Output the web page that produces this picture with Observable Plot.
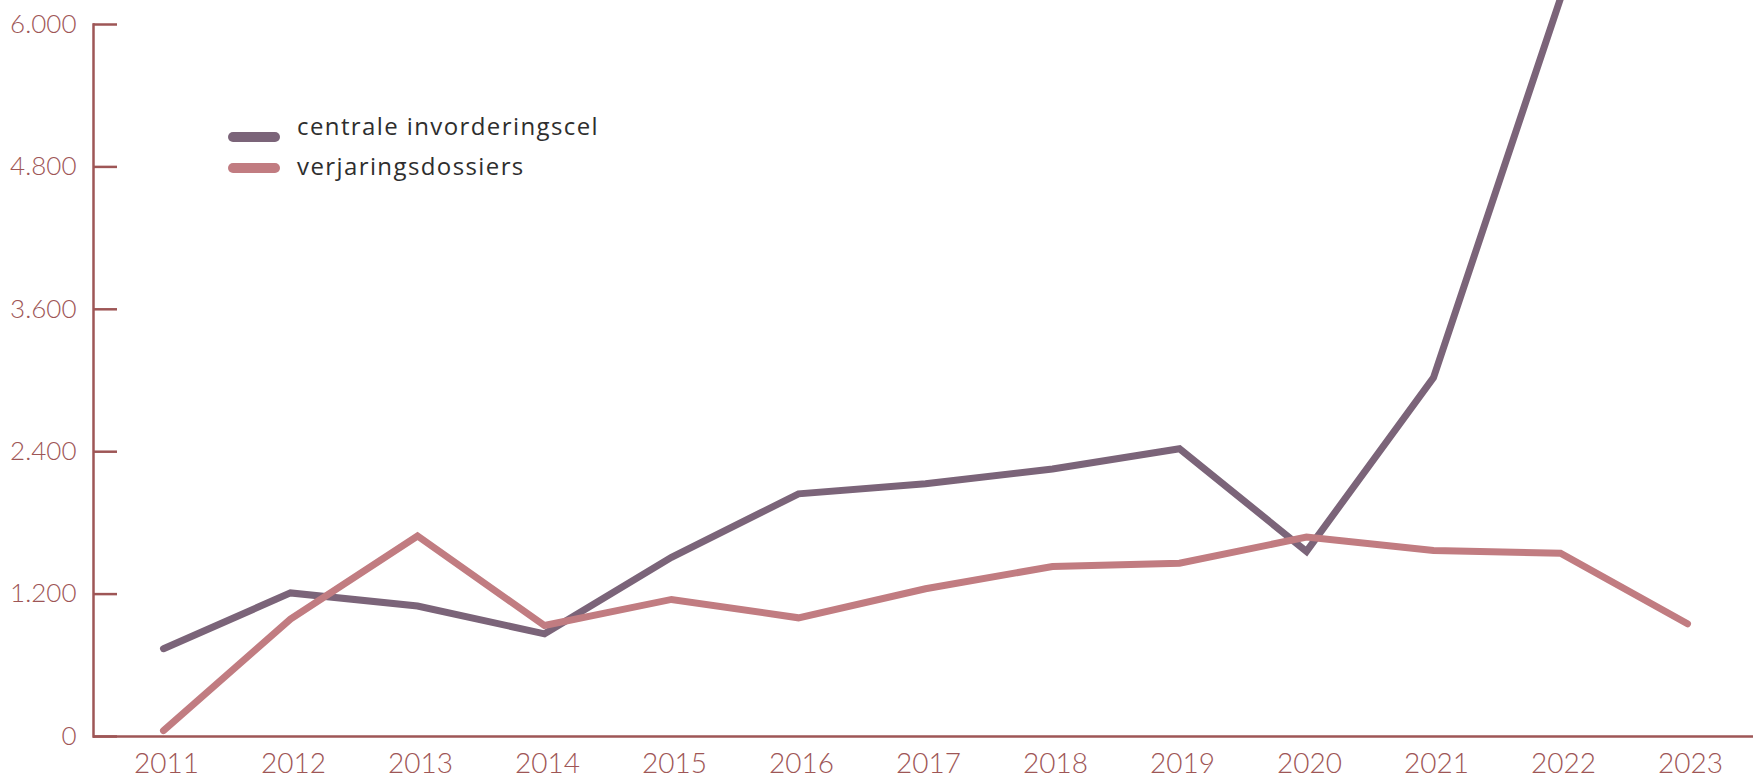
<!DOCTYPE html>
<html>
<head>
<meta charset="utf-8">
<script src="https://cdn.jsdelivr.net/npm/d3@7"></script>
<script src="https://cdn.jsdelivr.net/npm/@observablehq/plot@0.6"></script>
<style>
  html, body { margin: 0; padding: 0; background: #fff; }
  #wrap { position: relative; width: 1753px; height: 779px; overflow: hidden; }
  .sw { position: absolute; left: 228px; width: 52px; height: 10px; border-radius: 5px; }
  .lt { position: absolute; left: 297px; font-family: "Open Sans", sans-serif; font-size: 24px; letter-spacing: 1.4px; line-height: 24px; color: #2e2e2e; white-space: nowrap; }
</style>
</head>
<body>
<div id="wrap"></div>
<script>
const years = [2011, 2012, 2013, 2014, 2015, 2016, 2017, 2018, 2019, 2020, 2021, 2022, 2023];
const centraleInvorderingscel = [740, 1210, 1100, 865, 1510, 2045, 2130, 2255, 2425, 1560, 3025, 6220, null];
const verjaringsdossiers = [50, 990, 1690, 935, 1155, 1000, 1245, 1433, 1460, 1680, 1567, 1545, 950];
const seriesNames = ["centrale invorderingscel", "verjaringsdossiers"];
const seriesColors = ["#7b6479", "#c17c81"];
const yTicks = [0, 1200, 2400, 3600, 4800, 6000];

const axisColor = "#9e5656";
const nl = d3.formatLocale({decimal: ",", thousands: ".", grouping: [3], currency: ["€", ""]});
const fmt = nl.format(",d");

const rows = [];
years.forEach((y, i) => {
  if (centraleInvorderingscel[i] != null) rows.push({year: y, value: centraleInvorderingscel[i], series: seriesNames[0]});
  if (verjaringsdossiers[i] != null) rows.push({year: y, value: verjaringsdossiers[i], series: seriesNames[1]});
});

const W = 1753, H = 779, mL = 93, mR = -4, mT = 24, mB = 43;

const chart = Plot.plot({
  width: W,
  height: H,
  marginLeft: mL,
  marginRight: mR,
  marginTop: mT,
  marginBottom: mB,
  style: {fontFamily: "Lato, sans-serif", fontWeight: 300, color: axisColor, background: "#fff"},
  x: {type: "point", domain: years, padding: 0.514},
  y: {domain: [0, 6000]},
  color: {domain: seriesNames, range: seriesColors},
  marks: [
    Plot.ruleY([0], {stroke: axisColor, strokeWidth: 2.5}),
    Plot.frame({anchor: "left", stroke: axisColor, strokeWidth: 2.5}),
    Plot.ruleY(yTicks, {y: d => d, stroke: axisColor, strokeWidth: 2.5, insetRight: (W - mL - mR) - 24}),
    Plot.axisY(yTicks, {anchor: "left", tickSize: 0, tickPadding: 17, tickFormat: fmt, fontSize: 26, fill: axisColor, label: null}),
    Plot.axisX(years, {anchor: "bottom", tickSize: 0, tickPadding: 17, tickFormat: d => String(d), fontSize: 28, dx: 3, fill: axisColor, label: null}),
    Plot.line(rows, {x: "year", y: "value", z: "series", stroke: "series", strokeWidth: 7, strokeLinecap: "round", strokeLinejoin: "miter", strokeMiterlimit: 4})
  ]
});

const wrap = document.getElementById("wrap");
wrap.appendChild(chart);

// Legend overlay
const legendRows = [
  {name: seriesNames[0], color: seriesColors[0], swTop: 132, txtTop: 114},
  {name: seriesNames[1], color: seriesColors[1], swTop: 163, txtTop: 154}
];
legendRows.forEach(r => {
  const sw = document.createElement("div");
  sw.className = "sw";
  sw.style.top = r.swTop + "px";
  sw.style.background = r.color;
  wrap.appendChild(sw);
  const t = document.createElement("div");
  t.className = "lt";
  t.style.top = r.txtTop + "px";
  t.textContent = r.name;
  wrap.appendChild(t);
});
</script>
</body>
</html>
